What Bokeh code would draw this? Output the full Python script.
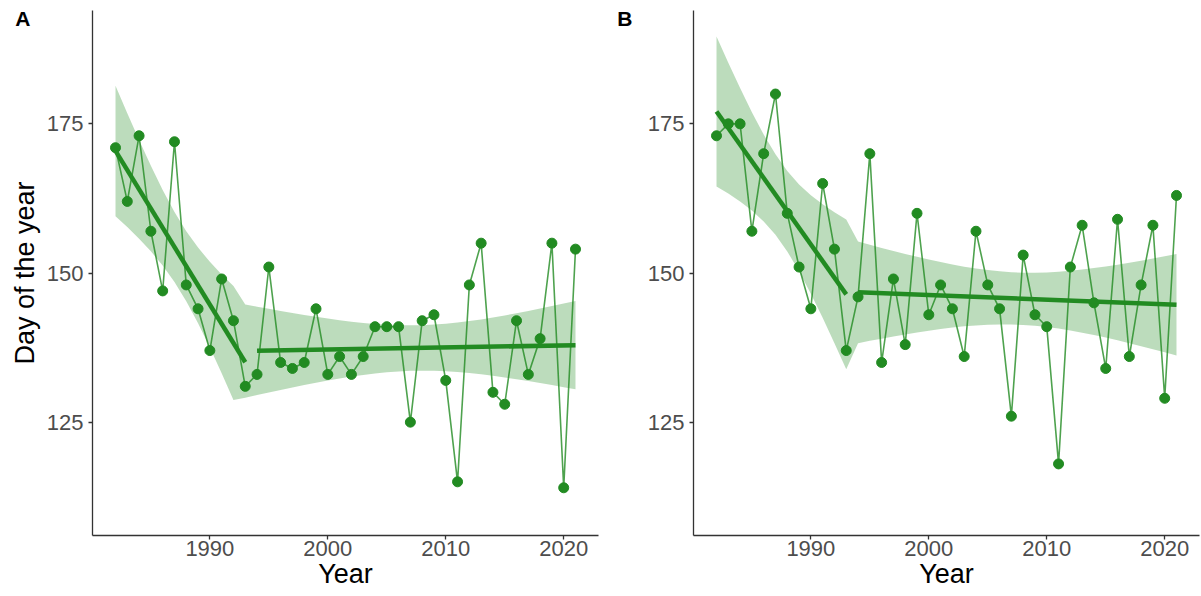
import numpy as np
from bokeh.plotting import figure
from bokeh.layouts import row
from bokeh.models import Range1d, FixedTicker, LinearAxis
from bokeh.embed import file_html
from bokeh.resources import INLINE

# ---------------- data ----------------
years = list(range(1982, 2022))
day_a = [171, 162, 173, 157, 147, 172, 148, 144, 137, 149,
         142, 131, 133, 151, 135, 134, 135, 144, 133, 136,
         133, 136, 141, 141, 141, 125, 142, 143, 132, 115,
         148, 155, 130, 128, 142, 133, 139, 155, 114, 154]
day_b = [173, 175, 175, 157, 170, 180, 160, 151, 144, 165,
         154, 137, 146, 170, 135, 149, 138, 160, 143, 148,
         144, 136, 157, 148, 144, 126, 153, 143, 141, 118,
         151, 158, 145, 134, 159, 136, 148, 158, 129, 163]
seg1_years = (1982, 1993)
seg2_years = (1994, 2021)
band_switch_a = 1993
band_switch_b = 1994
x_ticks = [1990, 2000, 2010, 2020]
y_ticks = [125, 150, 175]
panel_tags = ["A", "B"]
T_975 = 2.028  # t quantile, df = 40 - 4

GREEN = "#228B22"
FONT = "Liberation Sans"
TAG_Y = 192.7


def seg_fits(yrs, vals):
    yrs = np.asarray(yrs, float)
    vals = np.asarray(vals, float)
    fits = []
    sse = 0.0
    for lo, hi in (seg1_years, seg2_years):
        m = (yrs >= lo) & (yrs <= hi)
        x, y = yrs[m], vals[m]
        b, a = np.polyfit(x, y, 1)
        sse += float(((y - (a + b * x)) ** 2).sum())
        fits.append(dict(lo=lo, hi=hi, a=a, b=b, n=len(x), xm=x.mean(),
                         sxx=((x - x.mean()) ** 2).sum()))
    s = np.sqrt(sse / (len(yrs) - 4))
    return fits, s


def make_panel(vals, switch, letter, ylabel, width, bl, tag_standoff):
    fits, s = seg_fits(years, vals)
    p = figure(width=width, height=596, output_backend="svg", toolbar_location=None,
               x_range=Range1d(1980.05, 2022.95), y_range=Range1d(106, 194),
               min_border_left=bl, min_border_right=2, min_border_top=10,
               min_border_bottom=61)
    p.outline_line_color = None
    p.xgrid.grid_line_color = None
    p.ygrid.grid_line_color = None

    # ribbon (95% CI of the two-segment fit)
    bx, lo_, hi_ = [], [], []
    for yr in years:
        f = fits[0] if yr < switch else fits[1]
        pred = f["a"] + f["b"] * yr
        hw = T_975 * s * np.sqrt(1.0 / f["n"] + (yr - f["xm"]) ** 2 / f["sxx"])
        bx.append(yr)
        lo_.append(pred - hw)
        hi_.append(pred + hw)
    p.varea(x=bx, y1=lo_, y2=hi_, fill_color=GREEN, fill_alpha=0.3)

    p.line(years, vals, line_color=GREEN, line_alpha=0.8, line_width=1.6)
    p.scatter(years, vals, size=10, fill_color=GREEN, line_color=GREEN)

    for f in fits:
        xs = [f["lo"], f["hi"]]
        p.line(xs, [f["a"] + f["b"] * x for x in xs], line_color=GREEN, line_width=4.5)

    for ax in (p.xaxis[0], p.yaxis[0]):
        ax.axis_line_color = "#333333"
        ax.axis_line_width = 1.3
        ax.major_tick_line_color = "#333333"
        ax.major_tick_line_width = 1.3
        ax.major_tick_out = 4
        ax.major_tick_in = 0
        ax.minor_tick_line_color = None
        ax.major_label_text_font = FONT
        ax.major_label_text_font_size = "22px"
        ax.major_label_text_color = "#4D4D4D"
        ax.axis_label_text_font = FONT
        ax.axis_label_text_font_size = "27px"
        ax.axis_label_text_font_style = "normal"
        ax.axis_label_text_color = "#000000"
    p.xaxis.ticker = FixedTicker(ticks=x_ticks)
    p.yaxis.ticker = FixedTicker(ticks=y_ticks)
    p.xaxis.major_label_standoff = 1
    p.yaxis.major_label_standoff = 5
    p.xaxis.axis_label = "Year"
    p.xaxis.axis_label_standoff = 0
    if ylabel:
        p.yaxis.axis_label = ylabel
        p.yaxis.axis_label_standoff = 4

    # panel tag ("A"/"B") as an extra, line-less axis on the left
    tag = LinearAxis(ticker=FixedTicker(ticks=[TAG_Y]),
                     major_label_overrides={TAG_Y: letter})
    tag.axis_line_color = None
    tag.major_tick_line_color = None
    tag.minor_tick_line_color = None
    tag.major_tick_out = 0
    tag.major_tick_in = 0
    tag.major_label_standoff = tag_standoff
    tag.major_label_text_font = FONT
    tag.major_label_text_font_style = "bold"
    tag.major_label_text_font_size = "21px"
    tag.major_label_text_color = "#000000"
    p.add_layout(tag, "left")
    return p


pa = make_panel(day_a, band_switch_a, panel_tags[0], "Day of the year", 600, 92, -24)
pb = make_panel(day_b, band_switch_b, panel_tags[1], None, 601, 93, 12)

layout = row(pa, pb)
open("out.html", "w").write(file_html(layout, INLINE))
